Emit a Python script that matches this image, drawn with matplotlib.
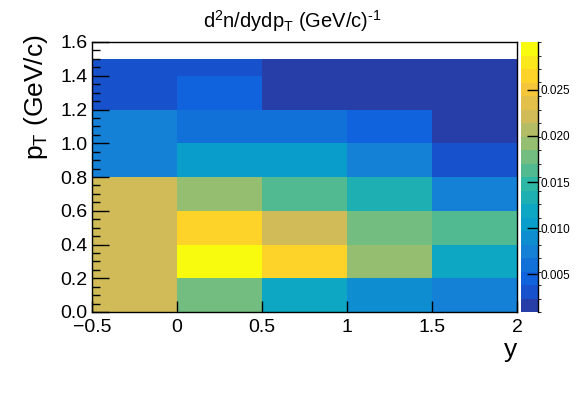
import numpy as np
import matplotlib
matplotlib.use("Agg")
import matplotlib.pyplot as plt
from matplotlib.colors import LinearSegmentedColormap, ListedColormap, BoundaryNorm
from matplotlib.lines import Line2D

plt.rcParams['font.family'] = ['Liberation Sans', 'DejaVu Sans']
plt.rcParams['mathtext.fontset'] = 'custom'
plt.rcParams['mathtext.rm'] = 'Liberation Sans'
plt.rcParams['mathtext.it'] = 'Liberation Sans:italic'
plt.rcParams['mathtext.bf'] = 'Liberation Sans:bold'

# ---- data ----
rapidity_edges = [-0.5, 0.0, 0.5, 1.0, 1.5, 2.0]
pt_edges = [0.0, 0.2, 0.4, 0.6, 0.8, 1.0, 1.2, 1.4, 1.5, 1.6]
# values per rapidity bin, pT ascending (last pT bin 1.5-1.6 empty)
col_m05 = [0.0221, 0.0221, 0.0221, 0.0221, 0.0075, 0.0075, 0.0031, 0.0031]
col_000 = [0.0177, 0.0302, 0.0265, 0.0192, 0.0104, 0.0060, 0.0046, 0.0031]
col_050 = [0.0119, 0.0265, 0.0221, 0.0163, 0.0104, 0.0060, 0.0009, 0.0009]
col_100 = [0.0090, 0.0192, 0.0177, 0.0133, 0.0075, 0.0046, 0.0009, 0.0009]
col_150 = [0.0075, 0.0119, 0.0163, 0.0075, 0.0031, 0.0009, 0.0009, 0.0009]
z_min = 0.0009
z_max = 0.0302
cbar_ticks = [0.005, 0.010, 0.015, 0.020, 0.025]
cbar_labels = ["0.005", "0.010", "0.015", "0.020", "0.025"]
x_ticks = [-0.5, 0, 0.5, 1, 1.5, 2]
x_ticklabels = ["\u22120.5", "0", "0.5", "1", "1.5", "2"]
y_ticks = [0.0, 0.2, 0.4, 0.6, 0.8, 1.0, 1.2, 1.4, 1.6]
y_ticklabels = ["0.0", "0.2", "0.4", "0.6", "0.8", "1.0", "1.2", "1.4", "1.6"]

cols = [col_m05, col_000, col_050, col_100, col_150]
Z = np.full((len(pt_edges) - 1, len(rapidity_edges) - 1), np.nan)
for j, c in enumerate(cols):
    Z[:len(c), j] = c

# ---- ROOT kBird palette, 20 contour levels ----
stops = [0.0, 0.125, 0.25, 0.375, 0.5, 0.625, 0.75, 0.875, 1.0]
red = [0.2082, 0.0592, 0.0780, 0.0232, 0.1802, 0.5301, 0.8186, 0.9956, 0.9764]
green = [0.1664, 0.3599, 0.5041, 0.6419, 0.7178, 0.7492, 0.7328, 0.7862, 0.9832]
blue = [0.5293, 0.8684, 0.8385, 0.7914, 0.6425, 0.4662, 0.3499, 0.1968, 0.0539]
cdict = {'red': [(s, v, v) for s, v in zip(stops, red)],
         'green': [(s, v, v) for s, v in zip(stops, green)],
         'blue': [(s, v, v) for s, v in zip(stops, blue)]}
bird = LinearSegmentedColormap('bird', cdict, N=255)
ncont = 20
idx = [int((i + 0.99) * 255 / ncont) for i in range(ncont)]
level_colors = [bird(min(k, 254) / 254.0) for k in idx]
cmap = ListedColormap(level_colors)
cmap.set_bad((1, 1, 1, 0))
bounds = np.linspace(z_min, z_max, ncont + 1)
norm = BoundaryNorm(bounds, ncont, clip=True)

W, H = 581, 393
fig = plt.figure(figsize=(W / 100, H / 100), dpi=100)
ax = fig.add_axes([92 / W, 1 - 312 / H, (517 - 92) / W, (312 - 42) / H])
mesh = ax.pcolormesh(rapidity_edges, pt_edges, np.ma.masked_invalid(Z),
                     cmap=cmap, norm=norm, edgecolors='none', antialiased=False)
ax.set_xlim(-0.5, 2.0)
ax.set_ylim(0.0, 1.6)
ax.set_xticks(x_ticks)
ax.set_xticklabels(x_ticklabels)
ax.set_yticks(y_ticks)
ax.set_yticklabels(y_ticklabels)
ax.set_yticks(np.arange(0, 1.6001, 0.05), minor=True)
ax.tick_params(axis='both', which='both', direction='in', top=False, right=False,
               labelsize=14, width=1, color='black')
ax.tick_params(axis='y', which='major', length=12, pad=3)
ax.tick_params(axis='y', which='minor', length=6)
ax.tick_params(axis='x', which='major', length=8, pad=5)
for sp in ax.spines.values():
    sp.set_linewidth(1)
ax.set_axisbelow(False)

# colorbar
cax = fig.add_axes([521 / W, 1 - 312 / H, (538 - 521) / W, (312 - 42) / H])
cb = fig.colorbar(mesh, cax=cax, ticks=cbar_ticks)
cb.ax.set_yticklabels(cbar_labels)
cb.outline.set_visible(False)
cb.ax.tick_params(direction='in', length=8, width=1, labelsize=8.5, pad=2, color='black')
cax.add_line(Line2D([1, 1], [0, 1], transform=cax.transAxes, color='black', lw=1, clip_on=False))

fig.text(292 / W, 1 - 28 / H, r'd$^{2}$n/dydp$_{\rm T}$ (GeV/c)$^{\text{-1}}$',
         ha='center', va='baseline', fontsize=14.5)
fig.text(517 / W, 1 - 350 / H, 'y', ha='right', va='center', fontsize=19)
fig.text(36 / W, 1 - 34 / H, r'p$_{\rm T}$ (GeV/c)', rotation=90, ha='center', va='top', fontsize=19)

fig.savefig('out.png', dpi=100)
